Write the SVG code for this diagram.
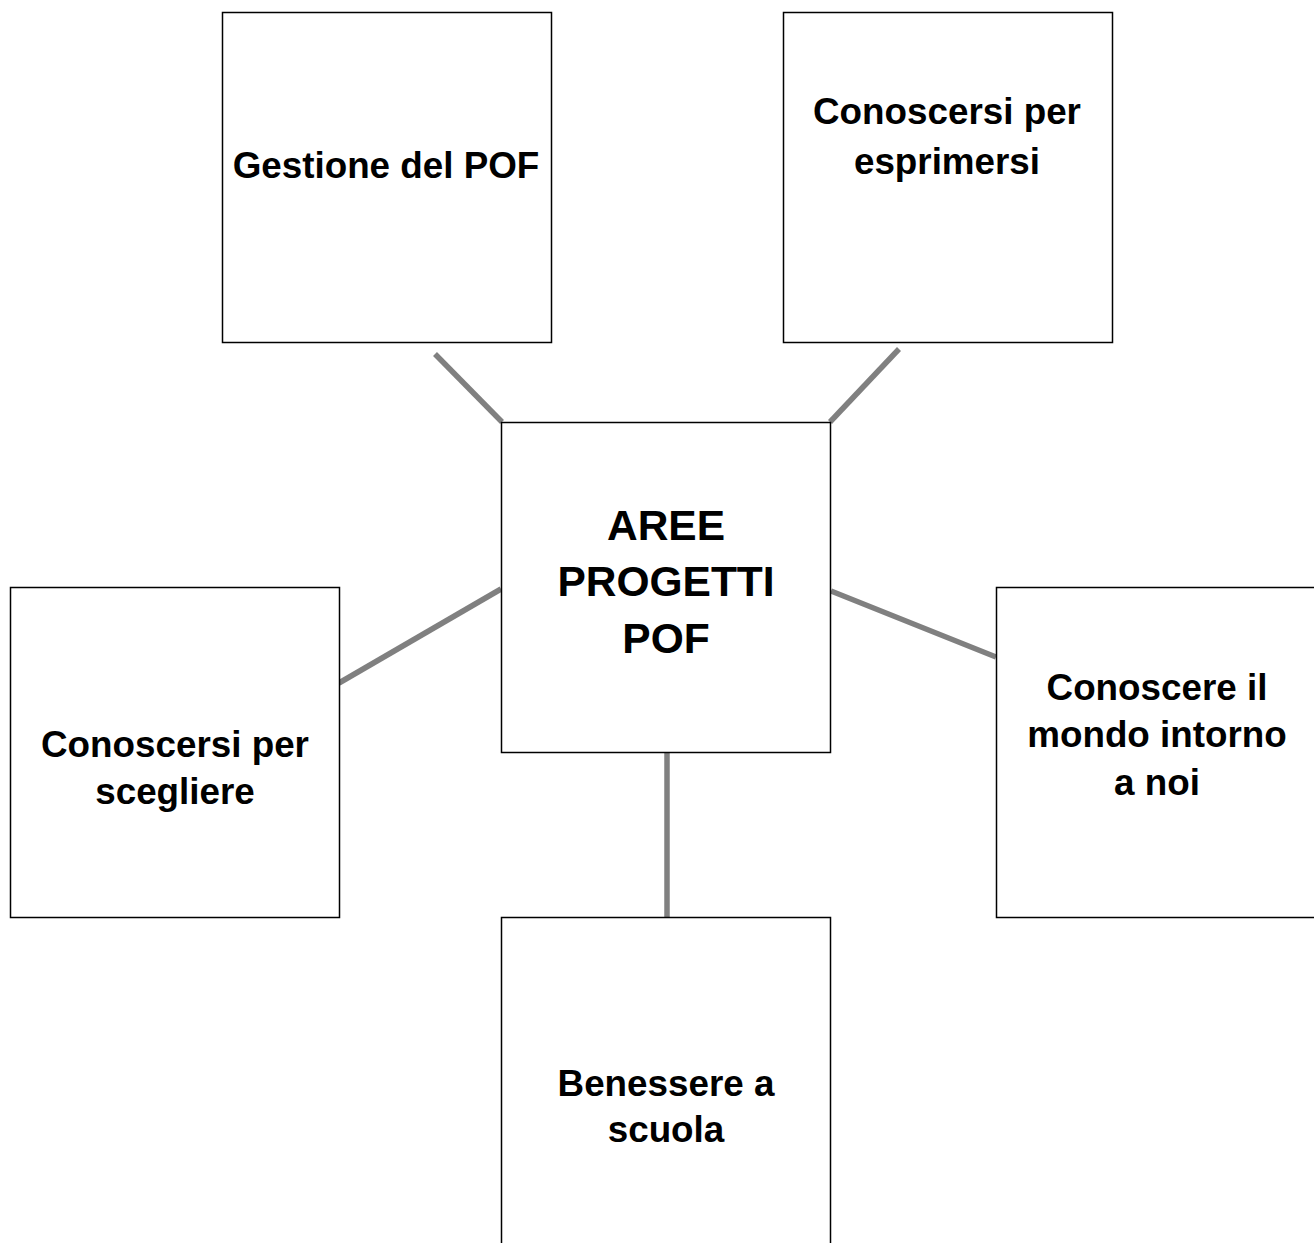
<svg xmlns="http://www.w3.org/2000/svg" width="1314" height="1243" viewBox="0 0 1314 1243">
<style>
.box{fill:#ffffff;stroke:#000000;stroke-width:1.5}
.lbl{font-family:"Liberation Sans",Arial,sans-serif;font-weight:bold;font-size:36.8px;fill:#000000;text-anchor:middle}
.big{font-size:42.5px}
.conn line{stroke:#808080;stroke-width:5.5}
</style>
<rect width="1314" height="1243" fill="#ffffff"/>
<g id="connectors" class="conn">
<line x1="435" y1="354" x2="502" y2="422"/>
<line x1="899" y1="349" x2="830" y2="422"/>
<line x1="339" y1="683" x2="501" y2="589"/>
<line x1="831" y1="591" x2="996" y2="657"/>
<line x1="667" y1="752" x2="667" y2="917"/>
</g>
<g id="node-gestione">
<rect class="box" x="222.5" y="12.5" width="329" height="330"/>
<text class="lbl" x="386" y="178">Gestione del POF</text>
</g>
<g id="node-esprimersi">
<rect class="box" x="783.5" y="12.5" width="329" height="330"/>
<text class="lbl" x="947" y="124">Conoscersi per</text>
<text class="lbl" x="947" y="174">esprimersi</text>
</g>
<g id="node-center">
<rect class="box" x="501.5" y="422.5" width="329" height="330"/>
<text class="lbl big" x="666" y="540">AREE</text>
<text class="lbl big" x="666" y="596">PROGETTI</text>
<text class="lbl big" x="666" y="653">POF</text>
</g>
<g id="node-scegliere">
<rect class="box" x="10.5" y="587.5" width="329" height="330"/>
<text class="lbl" x="175" y="757">Conoscersi per</text>
<text class="lbl" x="175" y="804">scegliere</text>
</g>
<g id="node-mondo">
<rect class="box" x="996.5" y="587.5" width="329" height="330"/>
<text class="lbl" x="1157" y="700">Conoscere il</text>
<text class="lbl" x="1157" y="747">mondo intorno</text>
<text class="lbl" x="1157" y="795">a noi</text>
</g>
<g id="node-benessere">
<rect class="box" x="501.5" y="917.5" width="329" height="340"/>
<text class="lbl" x="666" y="1096">Benessere a</text>
<text class="lbl" x="666" y="1142">scuola</text>
</g>
</svg>
